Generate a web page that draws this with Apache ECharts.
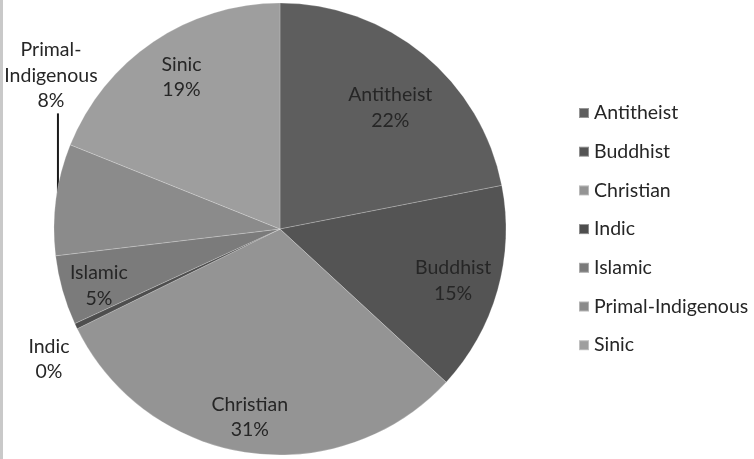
<!DOCTYPE html>
<html>
<head>
<meta charset="utf-8">
<script src="https://cdn.jsdelivr.net/npm/echarts@6/dist/echarts.min.js"></script>
<style>
html,body{margin:0;padding:0;background:#fff;}
#chart{width:754px;height:459px;}
#edge{position:absolute;left:0;top:0;width:3px;height:459px;background:#c9c9c9;}
</style>
</head>
<body>
<div id="chart"></div>
<div id="edge"></div>
<script>
const categories = ['Antitheist','Buddhist','Christian','Indic','Islamic','Primal-Indigenous','Sinic'];
const shares = [22, 15, 31, 0.4, 5, 8, 19];
const sliceColors = ['#5e5e5e','#545454','#949494','#4e4e4e','#7b7b7b','#8b8b8b','#9e9e9e'];
const labelNames = ['Antitheist','Buddhist','Christian','Indic','Islamic','Primal-\nIndigenous','Sinic'];
const outsideLabels = ['Indic','Primal-Indigenous'];

const font = 'Lato, "Open Sans", sans-serif';
const fs = 19.5;
const chart = echarts.init(document.getElementById('chart'), null, {renderer:'canvas'});

const mainData = categories.map((c,i)=>({
  name:c, value:shares[i],
  itemStyle:{color:sliceColors[i]},
  label:{show: outsideLabels.includes(c), position:'outside'},
  labelLine:{show: c==='Primal-Indigenous', lineStyle:{color:'#1a1a1a', width:2}}
}));
const labelData = categories.map((c,i)=>({
  name:c, value:shares[i],
  label:{show: !outsideLabels.includes(c)}
}));

// small best-fit nudges of inside labels (like the spreadsheet's placement)
function insideNudge(name){
  if(name==='Antitheist') return {dx:-6, dy:20};
  if(name==='Christian') return {dx:-4, dy:7};
  if(name==='Islamic') return {dx:-5, dy:7};
  if(name==='Sinic') return {dx:4, dy:0};
  return {dx:-3, dy:2};
}

chart.setOption({
  animation:false,
  backgroundColor:'#fff',
  legend:{
    orient:'vertical', left:573, top:98,
    icon:'rect', itemWidth:10, itemHeight:10, itemGap:18.7,
    data:categories,
    textStyle:{fontFamily:font, fontSize:fs, color:'#262626', lineHeight:20},
    selectedMode:false
  },
  series:[
    {
      type:'pie', center:[280,229], radius:[0,226], startAngle:90, clockwise:true,
      percentPrecision:0, silent:true,
      itemStyle:{borderColor:'rgba(255,255,255,0.35)', borderWidth:0.6},
      label:{
        formatter:p=>labelNames[p.dataIndex]+'\n'+p.percent+'%',
        fontFamily:font, fontSize:fs, color:'#262626', lineHeight:25.5, align:'center',
        overflow:'none'
      },
      labelLine:{length:10, length2:10},
      labelLayout:function(p){
        const name = categories[p.dataIndex];
        const s = p.labelLinePoints ? p.labelLinePoints[0] : [p.labelRect.x, p.labelRect.y];
        if(name==='Primal-Indigenous'){
          return {x:s[0]-5, y:s[1]-124, align:'center', verticalAlign:'middle',
            labelLinePoints:[[s[0]+2,s[1]-3],[s[0]+2,s[1]-45],[s[0]+2,s[1]-86]]};
        }
        if(name==='Indic'){
          return {x:s[0]-27, y:s[1]+33, align:'center', verticalAlign:'middle'};
        }
        return {};
      },
      data:mainData
    },
    {
      type:'pie', center:[280,229], radius:[132,228], startAngle:90, clockwise:true,
      percentPrecision:0, silent:true,
      itemStyle:{color:'rgba(0,0,0,0)', borderWidth:0},
      label:{
        position:'inside',
        formatter:p=>labelNames[p.dataIndex]+'\n'+p.percent+'%',
        fontFamily:font, fontSize:fs, color:'#262626', lineHeight:25.5, align:'center',
        overflow:'none'
      },
      labelLine:{show:false},
      labelLayout:function(p){ return insideNudge(categories[p.dataIndex]); },
      data:labelData
    }
  ]
});
</script>
</body>
</html>
